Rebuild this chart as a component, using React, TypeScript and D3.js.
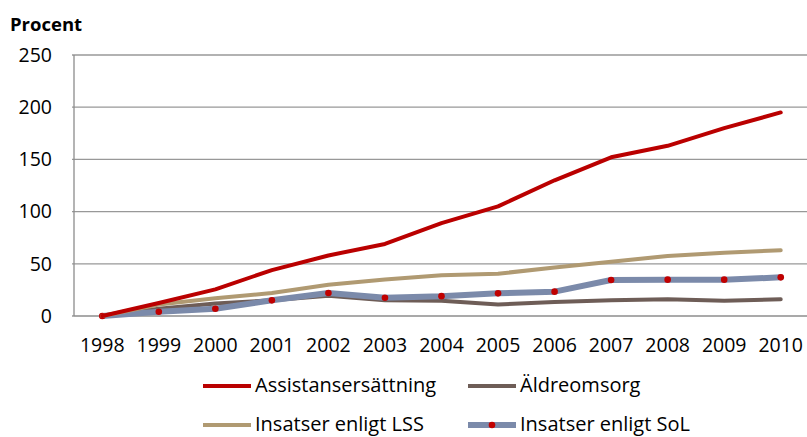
import React from "react";
import * as d3 from "d3";

const years = ["1998","1999","2000","2001","2002","2003","2004","2005","2006","2007","2008","2009","2010"];
const assistans = [0, 12.5, 25.5, 44, 58, 69, 89, 105, 130, 152, 163, 180, 195];
const aldreomsorg = [0, 7, 12, 15, 19.5, 15, 14.5, 11, 13.5, 15, 16, 14.5, 16];
const lss = [0, 11, 17, 22, 30, 35, 39, 40.5, 46.5, 52, 57.5, 60.5, 63];
const sol = [0, 4, 7, 15, 22, 17.5, 19, 21.7, 23.3, 34.5, 34.8, 34.8, 37];
const yTicks = [0, 50, 100, 150, 200, 250];

const series = [
  { name: "Assistansersättning", values: assistans, color: "#BA0000", width: 4 },
  { name: "Äldreomsorg", values: aldreomsorg, color: "#6E5D57", width: 4 },
  { name: "Insatser enligt LSS", values: lss, color: "#B09A72", width: 4 },
  { name: "Insatser enligt SoL", values: sol, color: "#7B8AAA", width: 6, dots: true },
];

const FONT = "'Open Sans', 'Noto Sans', sans-serif";

export default function App() {
  const W = 807, H = 437;
  const left = 74, right = 809, top = 55, bottom = 316;
  const x = d3.scaleBand<string>().domain(years).range([left, right]);
  const cx = (i: number) => (x(years[i]) as number) + x.bandwidth() / 2;
  const y = d3.scaleLinear().domain([0, 250]).range([bottom, top]);
  const line = d3.line<number>().x((_, i) => cx(i)).y((d) => y(d));
  const drawOrder = [series[1], series[3], series[2], series[0]];

  const legend = [
    { s: series[0], lx: 203, ly: 386 },
    { s: series[1], lx: 468, ly: 386 },
    { s: series[2], lx: 203, ly: 425 },
    { s: series[3], lx: 468, ly: 425 },
  ];

  return (
    <svg width={W} height={H} style={{ position: "absolute", left: 0, top: 0, background: "#fff" }} fontFamily={FONT}>
      <text x={10} y={31} fontSize={18.5} fontWeight="bold" fill="#000">Procent</text>
      {yTicks.map((t) => (
        <g key={t}>
          {t > 0 && <line x1={left} x2={W} y1={y(t)} y2={y(t)} stroke="#989898" strokeWidth={1.3} />}
          <line x1={left - 2} x2={left} y1={y(t)} y2={y(t)} stroke="#989898" strokeWidth={1.3} />
          <text x={52} y={y(t)} dy="0.35em" textAnchor="end" fontSize={19.5} fill="#000">{t}</text>
        </g>
      ))}
      <line x1={left} x2={left} y1={top} y2={bottom} stroke="#8c8c8c" strokeWidth={1.3} />
      <line x1={left} x2={W} y1={bottom} y2={bottom} stroke="#8c8c8c" strokeWidth={1.3} />
      {years.map((yr, i) => (
        <text key={yr} x={cx(i)} y={352} textAnchor="middle" fontSize={19.5} fill="#000">{yr}</text>
      ))}
      {drawOrder.map((s) => (
        <g key={s.name}>
          <path d={line(s.values) || ""} fill="none" stroke={s.color} strokeWidth={s.width} strokeLinejoin="round" strokeLinecap="round" />
          {s.dots && s.values.map((v, i) => (
            <circle key={i} cx={cx(i)} cy={y(v)} r={3.3} fill="#C00000" />
          ))}
        </g>
      ))}
      {legend.map(({ s, lx, ly }) => (
        <g key={s.name}>
          <line x1={lx} x2={lx + 48} y1={ly} y2={ly} stroke={s.color} strokeWidth={s.width} />
          {s.dots && <circle cx={lx + 24} cy={ly} r={3.3} fill="#C00000" />}
          <text x={lx + 52} y={ly} dy="0.3em" fontSize={20} fill="#000">{s.name}</text>
        </g>
      ))}
    </svg>
  );
}
